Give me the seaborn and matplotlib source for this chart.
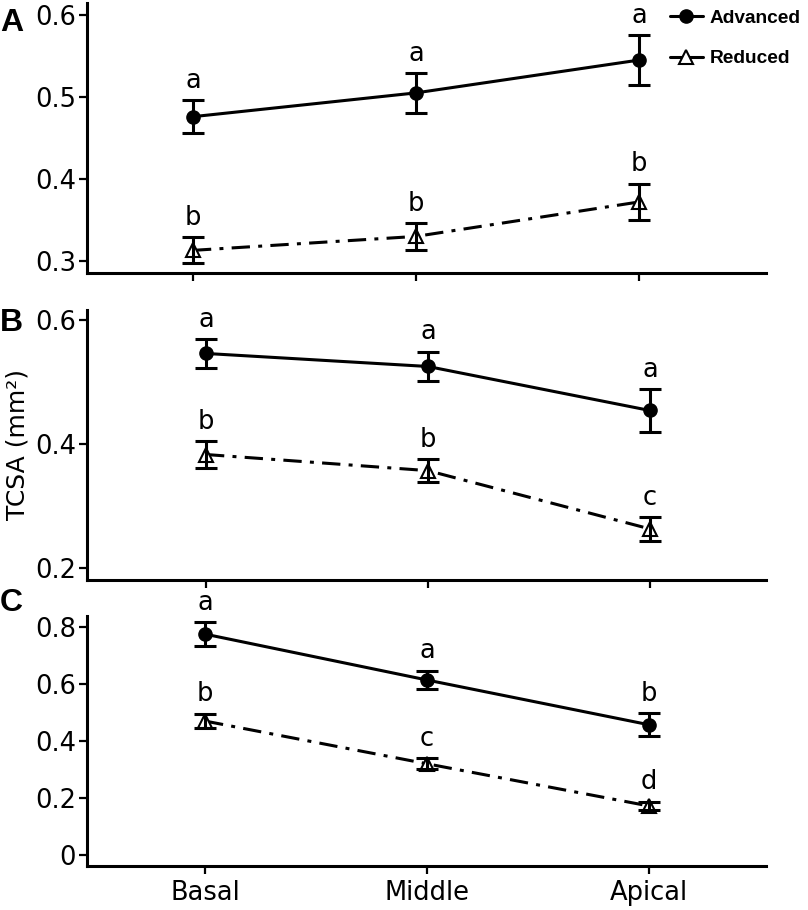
import numpy as np
import pandas as pd
import matplotlib
matplotlib.use("Agg")
import matplotlib.pyplot as plt
from matplotlib.lines import Line2D
import seaborn as sns

# ---------------- data ----------------
regions = ["Basal", "Middle", "Apical"]
groups = ["Advanced", "Reduced"]

a_adv_mean = [0.476, 0.505, 0.545]
a_adv_se = [0.020, 0.024, 0.030]
a_red_mean = [0.313, 0.330, 0.372]
a_red_se = [0.016, 0.016, 0.022]
a_adv_letters = ["a", "a", "a"]
a_red_letters = ["b", "b", "b"]

b_adv_mean = [0.546, 0.525, 0.454]
b_adv_se = [0.023, 0.024, 0.034]
b_red_mean = [0.383, 0.357, 0.263]
b_red_se = [0.021, 0.018, 0.019]
b_adv_letters = ["a", "a", "a"]
b_red_letters = ["b", "b", "c"]

c_adv_mean = [0.775, 0.614, 0.457]
c_adv_se = [0.042, 0.033, 0.040]
c_red_mean = [0.470, 0.320, 0.172]
c_red_se = [0.026, 0.020, 0.015]
c_adv_letters = ["a", "a", "b"]
c_red_letters = ["b", "c", "d"]

a_yticks = [0.3, 0.4, 0.5, 0.6]
a_yticklabels = ["0.3", "0.4", "0.5", "0.6"]
b_yticks = [0.2, 0.4, 0.6]
b_yticklabels = ["0.2", "0.4", "0.6"]
c_yticks = [0.0, 0.2, 0.4, 0.6, 0.8]
c_yticklabels = ["0", "0.2", "0.4", "0.6", "0.8"]

panel_labels = ["A", "B", "C"]
y_label = "TCSA (mm²)"

# ---------------- style ----------------
sns.set_theme(style="ticks")
plt.rcParams["font.family"] = ["DejaVu Sans"]
plt.rcParams["text.color"] = "black"

LW = 2.2
DASHDOT = (6, 2.7, 1.3, 2.7)

fig = plt.figure(figsize=(8.08, 9.10), dpi=100)

W = 808.0
H = 910.0


def ax_rect(x0, x1, ytop, ybot):
    return [x0 / W, 1 - ybot / H, (x1 - x0) / W, (ybot - ytop) / H]


panels = [
    dict(rect=ax_rect(87, 766, 3, 273), xlim=(-0.475, 2.57), ylim=(0.2854, 0.6146),
         adv=(a_adv_mean, a_adv_se, a_adv_letters), red=(a_red_mean, a_red_se, a_red_letters),
         yticks=a_yticks, yticklabels=a_yticklabels, label_y=23),
    dict(rect=ax_rect(87, 766, 310, 580), xlim=(-0.536, 2.523), ylim=(0.1806, 0.6161),
         adv=(b_adv_mean, b_adv_se, b_adv_letters), red=(b_red_mean, b_red_se, b_red_letters),
         yticks=b_yticks, yticklabels=b_yticklabels, label_y=323),
    dict(rect=ax_rect(87, 766, 616, 866), xlim=(-0.532, 2.527), ylim=(-0.0386, 0.8386),
         adv=(c_adv_mean, c_adv_se, c_adv_letters), red=(c_red_mean, c_red_se, c_red_letters),
         yticks=c_yticks, yticklabels=c_yticklabels, label_y=603),
]

for i, p in enumerate(panels):
    ax = fig.add_axes(p["rect"])
    adv_mean, adv_se, adv_let = p["adv"]
    red_mean, red_se, red_let = p["red"]
    df = pd.DataFrame({
        "region": regions * 2,
        "group": [groups[0]] * len(regions) + [groups[1]] * len(regions),
        "mean": list(adv_mean) + list(red_mean),
    })
    sns.pointplot(data=df, x="region", y="mean", hue="group", order=regions,
                  hue_order=groups, palette={"Advanced": "black", "Reduced": "black"},
                  markers=["o", "^"], linestyles=["-", "-"], errorbar=None,
                  ax=ax, legend=False, linewidth=LW)
    lines = [l for l in ax.lines if len(l.get_xdata()) == len(regions)]
    adv_line, red_line = lines[0], lines[1]
    adv_line.set_markersize(9.5)
    adv_line.set_markerfacecolor("black")
    adv_line.set_markeredgewidth(1.0)
    red_line.set_dashes(DASHDOT)
    red_line.set_markersize(10)
    red_line.set_markerfacecolor("white")
    red_line.set_markeredgewidth(1.5)
    red_line.set_zorder(2.5)

    xs = np.arange(len(regions))
    for mean, se, lets in [(adv_mean, adv_se, adv_let), (red_mean, red_se, red_let)]:
        ax.errorbar(xs, mean, yerr=se, fmt="none", ecolor="black",
                    elinewidth=LW, capsize=8, capthick=LW, zorder=3)
        for x, m, s, t in zip(xs, mean, se, lets):
            ax.annotate(t, xy=(x, m + s), xytext=(0, 9), textcoords="offset points",
                        ha="center", va="baseline", fontsize=18.5, color="black")

    ax.set_xlim(*p["xlim"])
    ax.set_ylim(*p["ylim"])
    ax.set_yticks(p["yticks"])
    ax.set_yticklabels(p["yticklabels"])
    ax.set_xlabel("")
    ax.set_ylabel("")
    for s in ["top", "right"]:
        ax.spines[s].set_visible(False)
    for s in ["left", "bottom"]:
        ax.spines[s].set_linewidth(LW)
        ax.spines[s].set_color("black")
    ax.tick_params(axis="both", length=6, width=1.6, color="black",
                   labelsize=18.5, labelcolor="black", pad=2)
    ax.set_facecolor("white")
    if i < 2:
        ax.set_xticklabels([])
    else:
        ax.tick_params(axis="x", labelsize=18.5, pad=4)

    fig.text(0 / W, 1 - p["label_y"] / H, panel_labels[i], fontsize=23,
             fontweight="bold", family="Liberation Sans", ha="left", va="center",
             color="black")

    if i == 0:
        handles = [
            Line2D([], [], color="black", lw=LW, marker="o", markersize=9.5,
                   markerfacecolor="black"),
            Line2D([], [], color="black", lw=LW, marker="^", markersize=10,
                   markerfacecolor="white", markeredgewidth=1.5),
        ]
        leg = ax.legend(handles, groups, loc="upper left",
                        bbox_to_anchor=(660 / W, 1.0), bbox_transform=fig.transFigure,
                        frameon=False, handlelength=1.75, handletextpad=0.35,
                        labelspacing=1.19, borderpad=0.0,
                        prop={"family": "Liberation Sans", "weight": "bold", "size": 13.8})
        for t in leg.get_texts():
            t.set_color("black")

fig.text(18 / W, 1 - 444 / H, y_label, rotation=90, fontsize=18,
         ha="center", va="center", color="black")

fig.savefig("out.png", dpi=100, facecolor="white")
